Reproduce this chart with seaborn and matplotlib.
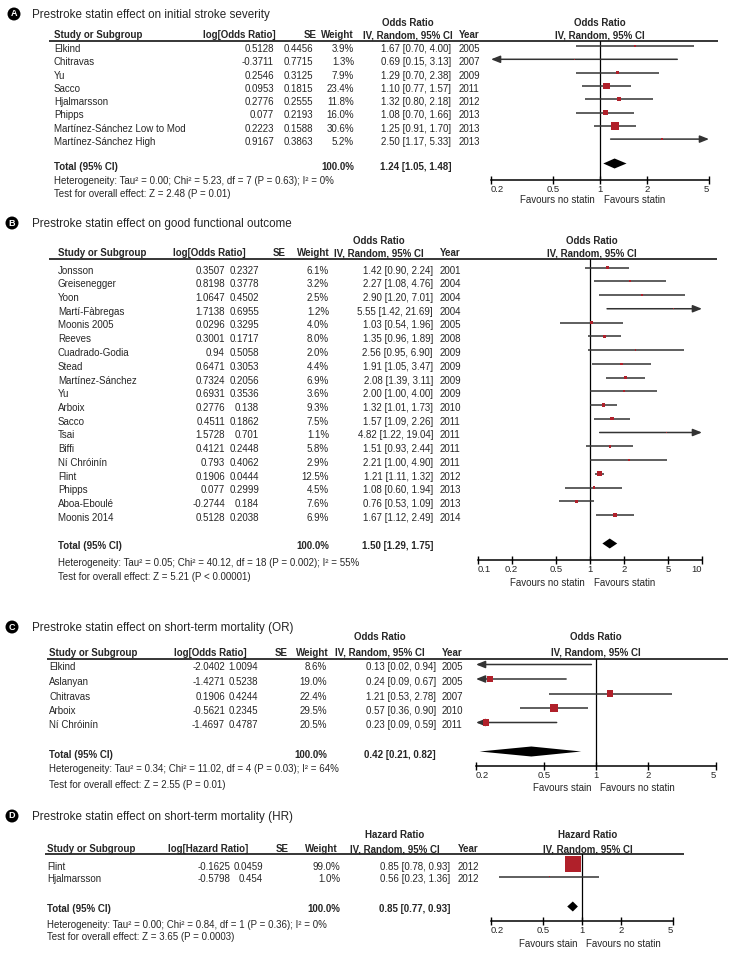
import matplotlib
matplotlib.use("Agg")
import matplotlib.pyplot as plt
from matplotlib.ticker import NullLocator
from matplotlib import font_manager as fm
import numpy as np
import pandas as pd
import seaborn as sns

sns.set_theme(style="white")
plt.rcParams["font.family"] = ["Liberation Sans", "DejaVu Sans"]
_names = {f.name for f in fm.fontManager.ttflist}
if "Liberation Sans Narrow" in _names:
    TITLE_FONT = dict(family=["Liberation Sans Narrow", "Liberation Sans"], fontsize=9.5)
else:
    TITLE_FONT = dict(family=["Liberation Sans", "DejaVu Sans"], fontsize=8.4)

# ---------------- data ----------------
# Panel A: initial stroke severity
a_study = ["Elkind", "Chitravas", "Yu", "Sacco", "Hjalmarsson", "Phipps",
           "Martínez-Sánchez Low to Mod", "Martínez-Sánchez High"]
a_logor = [0.5128, -0.3711, 0.2546, 0.0953, 0.2776, 0.077, 0.2223, 0.9167]
a_se = [0.4456, 0.7715, 0.3125, 0.1815, 0.2555, 0.2193, 0.1588, 0.3863]
a_weight = [3.9, 1.3, 7.9, 23.4, 11.8, 16.0, 30.6, 5.2]
a_or = [1.67, 0.69, 1.29, 1.10, 1.32, 1.08, 1.25, 2.50]
a_lo = [0.70, 0.15, 0.70, 0.77, 0.80, 0.70, 0.91, 1.17]
a_hi = [4.00, 3.13, 2.38, 1.57, 2.18, 1.66, 1.70, 5.33]
a_year = [2005, 2007, 2009, 2011, 2012, 2013, 2013, 2013]
a_total = [1.24, 1.05, 1.48]
a_het = "Heterogeneity: Tau² = 0.00; Chi² = 5.23, df = 7 (P = 0.63); I² = 0%"
a_test = "Test for overall effect: Z = 2.48 (P = 0.01)"
a_ticks = [0.2, 0.5, 1, 2, 5]
a_favours = ["Favours no statin", "Favours statin"]

# Panel B: good functional outcome
b_study = ["Jonsson", "Greisenegger", "Yoon", "Martí-Fàbregas", "Moonis 2005", "Reeves",
           "Cuadrado-Godia", "Stead", "Martínez-Sánchez", "Yu", "Arboix", "Sacco", "Tsai",
           "Biffi", "Ní Chróinín", "Flint", "Phipps", "Aboa-Eboulé", "Moonis 2014"]
b_logor = [0.3507, 0.8198, 1.0647, 1.7138, 0.0296, 0.3001, 0.94, 0.6471, 0.7324, 0.6931,
           0.2776, 0.4511, 1.5728, 0.4121, 0.793, 0.1906, 0.077, -0.2744, 0.5128]
b_se = [0.2327, 0.3778, 0.4502, 0.6955, 0.3295, 0.1717, 0.5058, 0.3053, 0.2056, 0.3536,
        0.138, 0.1862, 0.701, 0.2448, 0.4062, 0.0444, 0.2999, 0.184, 0.2038]
b_weight = [6.1, 3.2, 2.5, 1.2, 4.0, 8.0, 2.0, 4.4, 6.9, 3.6, 9.3, 7.5, 1.1, 5.8, 2.9,
            12.5, 4.5, 7.6, 6.9]
b_or = [1.42, 2.27, 2.90, 5.55, 1.03, 1.35, 2.56, 1.91, 2.08, 2.00, 1.32, 1.57, 4.82,
        1.51, 2.21, 1.21, 1.08, 0.76, 1.67]
b_lo = [0.90, 1.08, 1.20, 1.42, 0.54, 0.96, 0.95, 1.05, 1.39, 1.00, 1.01, 1.09, 1.22,
        0.93, 1.00, 1.11, 0.60, 0.53, 1.12]
b_hi = [2.24, 4.76, 7.01, 21.69, 1.96, 1.89, 6.90, 3.47, 3.11, 4.00, 1.73, 2.26, 19.04,
        2.44, 4.90, 1.32, 1.94, 1.09, 2.49]
b_year = [2001, 2004, 2004, 2004, 2005, 2008, 2009, 2009, 2009, 2009, 2010, 2011, 2011,
          2011, 2011, 2012, 2013, 2013, 2014]
b_total = [1.50, 1.29, 1.75]
b_het = "Heterogeneity: Tau² = 0.05; Chi² = 40.12, df = 18 (P = 0.002); I² = 55%"
b_test = "Test for overall effect: Z = 5.21 (P < 0.00001)"
b_ticks = [0.1, 0.2, 0.5, 1, 2, 5, 10]
b_favours = ["Favours no statin", "Favours statin"]

# Panel C: short-term mortality (OR)
c_study = ["Elkind", "Aslanyan", "Chitravas", "Arboix", "Ní Chróinín"]
c_logor = [-2.0402, -1.4271, 0.1906, -0.5621, -1.4697]
c_se = [1.0094, 0.5238, 0.4244, 0.2345, 0.4787]
c_weight = [8.6, 19.0, 22.4, 29.5, 20.5]
c_or = [0.13, 0.24, 1.21, 0.57, 0.23]
c_lo = [0.02, 0.09, 0.53, 0.36, 0.09]
c_hi = [0.94, 0.67, 2.78, 0.90, 0.59]
c_year = [2005, 2005, 2007, 2010, 2011]
c_total = [0.42, 0.21, 0.82]
c_het = "Heterogeneity: Tau² = 0.34; Chi² = 11.02, df = 4 (P = 0.03); I² = 64%"
c_test = "Test for overall effect: Z = 2.55 (P = 0.01)"
c_ticks = [0.2, 0.5, 1, 2, 5]
c_favours = ["Favours stain", "Favours no statin"]

# Panel D: short-term mortality (HR)
d_study = ["Flint", "Hjalmarsson"]
d_loghr = [-0.1625, -0.5798]
d_se = [0.0459, 0.454]
d_weight = [99.0, 1.0]
d_hr = [0.85, 0.56]
d_lo = [0.78, 0.23]
d_hi = [0.93, 1.36]
d_year = [2012, 2012]
d_total = [0.85, 0.77, 0.93]
d_het = "Heterogeneity: Tau² = 0.00; Chi² = 0.84, df = 1 (P = 0.36); I² = 0%"
d_test = "Test for overall effect: Z = 3.65 (P = 0.0003)"
d_ticks = [0.2, 0.5, 1, 2, 5]
d_favours = ["Favours stain", "Favours no statin"]

total_weight = 100.0

# ---------------- layout (pixel positions) ----------------
LAY_A = dict(title=14, bx=14, upper=22, header=35, hline=41, hx=(49, 718), y0=46, dy=13.3,
             total=166, het=181, test=193.5, axis=180, fav=200, name_x=54, log_x=274,
             log_hx=276, se_x=313, se_hx=317, w_x=354, w_hx=354, ci_x=451, ci_hc=408,
             year_x=459, plot=(491, 709), plot_hc=600)
LAY_B = dict(title=223, bx=12, upper=240, header=253, hline=259, hx=(49, 717), y0=267.5,
             dy=13.75, total=546, het=563, test=577, axis=560, fav=583, name_x=58, log_x=225,
             log_hx=246, se_x=259, se_hx=286, w_x=329, w_hx=330, ci_x=433, ci_hc=379,
             year_x=440, plot=(478, 702), plot_hc=592)
LAY_C = dict(title=627, bx=12, upper=637, header=652, hline=659, hx=(47, 728), y0=664.5,
             dy=14.5, total=754, het=769, test=784, axis=766, fav=788, name_x=49, log_x=225,
             log_hx=247, se_x=258, se_hx=288, w_x=327, w_hx=329, ci_x=436, ci_hc=380,
             year_x=442, plot=(476, 716), plot_hc=596)
LAY_D = dict(title=816, bx=12, upper=834, header=849, hline=854, hx=(45, 684), y0=864,
             dy=12.5, total=909, het=924, test=937, axis=921, fav=944, name_x=47, log_x=230,
             log_hx=248, se_x=263, se_hx=289, w_x=340, w_hx=338, ci_x=450, ci_hc=395,
             year_x=458, plot=(491, 673), plot_hc=588)

W, H = 730, 956
fig = plt.figure(figsize=(W / 100, H / 100), dpi=100)
fig.patch.set_facecolor("white")

SQ = "#B0202A"
CIC = "#333333"
FS = 7.0


def panel(letter, title, names, logv, se, wt, est, lo, hi, year, total, het, test,
          measure, logname, ticks, favours, L):
    n = len(names)
    top, bot = L["title"] - 10, L["fav"] + 9

    def r(py):
        return (py - L["y0"]) / L["dy"]

    def tb(c):
        return r(c + 3.5)

    tax = fig.add_axes([0, 1 - bot / H, 1, (bot - top) / H])
    tax.set_xlim(0, W)
    tax.set_ylim(r(bot), r(top))
    tax.axis("off")

    # title + badge
    tax.text(L["bx"], r(L["title"]), letter, ha="center", va="center", color="white",
             fontsize=6.5, fontweight="bold",
             bbox=dict(boxstyle="circle,pad=0.22", fc="black", ec="none"))
    tax.text(32, r(L["title"] + 4.2), title, ha="left", va="baseline", **TITLE_FONT)

    # headers
    kw = dict(fontsize=FS, fontweight="bold", va="baseline")
    tax.text(L["ci_hc"], tb(L["upper"]), measure, ha="center", **kw)
    tax.text(L["plot_hc"], tb(L["upper"]), measure, ha="center", **kw)
    hb = tb(L["header"])
    tax.text(L["name_x"], hb, "Study or Subgroup", ha="left", **kw)
    tax.text(L["log_hx"], hb, logname, ha="right", **kw)
    tax.text(L["se_hx"], hb, "SE", ha="right", **kw)
    tax.text(L["w_hx"], hb, "Weight", ha="right", **kw)
    tax.text(L["ci_hc"], hb, "IV, Random, 95% CI", ha="center", **kw)
    tax.text(L["year_x"], hb, "Year", ha="left", **kw)
    tax.text(L["plot_hc"], hb, "IV, Random, 95% CI", ha="center", **kw)
    tax.plot(L["hx"], [r(L["hline"])] * 2, color="black", lw=1.1, solid_capstyle="butt")

    # study rows
    rk = dict(fontsize=FS, va="baseline")
    off = 6 / L["dy"]
    for i in range(n):
        y = i + off
        tax.text(L["name_x"], y, names[i], ha="left", **rk)
        tax.text(L["log_x"], y, str(logv[i]), ha="right", **rk)
        tax.text(L["se_x"], y, str(se[i]), ha="right", **rk)
        tax.text(L["w_x"], y, f"{wt[i]:.1f}%", ha="right", **rk)
        tax.text(L["ci_x"], y, f"{est[i]:.2f} [{lo[i]:.2f}, {hi[i]:.2f}]", ha="right", **rk)
        tax.text(L["year_x"], y, str(year[i]), ha="left", **rk)

    # total + footer
    bk = dict(fontsize=FS, fontweight="bold", va="baseline")
    yb = tb(L["total"])
    tax.text(L["name_x"], yb, "Total (95% CI)", ha="left", **bk)
    tax.text(L["w_x"], yb, f"{total_weight:.1f}%", ha="right", **bk)
    tax.text(L["ci_x"], yb, f"{total[0]:.2f} [{total[1]:.2f}, {total[2]:.2f}]", ha="right", **bk)
    tax.text(L["name_x"], tb(L["het"]), het, ha="left", **rk)
    tax.text(L["name_x"], tb(L["test"]), test, ha="left", **rk)

    # forest plot axes
    x0, x1 = L["plot"]
    fax = fig.add_axes([x0 / W, 1 - L["axis"] / H, (x1 - x0) / W, (L["axis"] - L["hline"]) / H])
    fax.set_facecolor("none")
    df = pd.DataFrame(dict(row=np.arange(n), est=est, lo=lo, hi=hi, w=wt))
    sizes = (np.asarray(wt, float) ** 0.6 * 0.72) ** 2
    sns.scatterplot(data=df, x="est", y="row", marker="s", s=sizes, color=SQ,
                    linewidth=0, ax=fax, legend=False, zorder=4)
    fax.set_xscale("log")
    fax.set_xlim(ticks[0], ticks[-1])
    fax.set_ylim(r(L["axis"]), r(L["hline"]))
    lo_lim, hi_lim = fax.get_xlim()
    fax.axvline(1, color="black", lw=0.9, zorder=1)
    for i in range(n):
        lc, hc = max(lo[i], lo_lim), min(hi[i], hi_lim)
        ap = dict(arrowstyle="-|>,head_length=0.45,head_width=0.18", color=CIC, lw=1.1,
                  shrinkA=0, shrinkB=0)
        if lo[i] < lo_lim:
            fax.annotate("", xy=(lo_lim, i), xytext=(hc, i), arrowprops=ap,
                         annotation_clip=False, zorder=3)
        elif hi[i] > hi_lim:
            fax.annotate("", xy=(hi_lim, i), xytext=(lc, i), arrowprops=ap,
                         annotation_clip=False, zorder=3)
        else:
            fax.plot([lc, hc], [i, i], color=CIC, lw=1.1, zorder=3, solid_capstyle="butt")
    # summary diamond
    yt = r(L["total"] - 2.5)
    hh = 5.0 / L["dy"]
    fax.fill([total[1], total[0], total[2], total[0]], [yt, yt - hh, yt, yt + hh],
             color="black", lw=0, zorder=4)

    fax.set_xlabel("")
    fax.set_ylabel("")
    for s in ["top", "right", "left"]:
        fax.spines[s].set_visible(False)
    fax.spines["bottom"].set_color("black")
    fax.spines["bottom"].set_linewidth(1.1)
    fax.set_xticks(ticks)
    fax.set_xticklabels([f"{t:g}" for t in ticks])
    fax.xaxis.set_minor_locator(NullLocator())
    fax.tick_params(axis="x", which="major", direction="inout", length=6, width=1.0,
                    color="black", labelsize=6.8, pad=0.5, bottom=True)
    fax.tick_params(axis="y", left=False, labelleft=False)
    fax.grid(False)
    labs = fax.get_xticklabels()
    labs[0].set_ha("left")
    labs[-1].set_ha("right")
    dyf = -(L["fav"] - L["axis"]) * 0.72
    fax.annotate(favours[0], xy=(1, 0), xycoords=("data", "axes fraction"),
                 xytext=(-3.5, dyf), textcoords="offset points", ha="right", va="center",
                 fontsize=7.0, annotation_clip=False)
    fax.annotate(favours[1], xy=(1, 0), xycoords=("data", "axes fraction"),
                 xytext=(3.0, dyf), textcoords="offset points", ha="left", va="center",
                 fontsize=7.0, annotation_clip=False)


panel("A", "Prestroke statin effect on initial stroke severity", a_study, a_logor, a_se,
      a_weight, a_or, a_lo, a_hi, a_year, a_total, a_het, a_test, "Odds Ratio",
      "log[Odds Ratio]", a_ticks, a_favours, LAY_A)
panel("B", "Prestroke statin effect on good functional outcome", b_study, b_logor, b_se,
      b_weight, b_or, b_lo, b_hi, b_year, b_total, b_het, b_test, "Odds Ratio",
      "log[Odds Ratio]", b_ticks, b_favours, LAY_B)
panel("C", "Prestroke statin effect on short-term mortality (OR)", c_study, c_logor, c_se,
      c_weight, c_or, c_lo, c_hi, c_year, c_total, c_het, c_test, "Odds Ratio",
      "log[Odds Ratio]", c_ticks, c_favours, LAY_C)
panel("D", "Prestroke statin effect on short-term mortality (HR)", d_study, d_loghr, d_se,
      d_weight, d_hr, d_lo, d_hi, d_year, d_total, d_het, d_test, "Hazard Ratio",
      "log[Hazard Ratio]", d_ticks, d_favours, LAY_D)

fig.savefig("out.png", dpi=100, facecolor="white")
